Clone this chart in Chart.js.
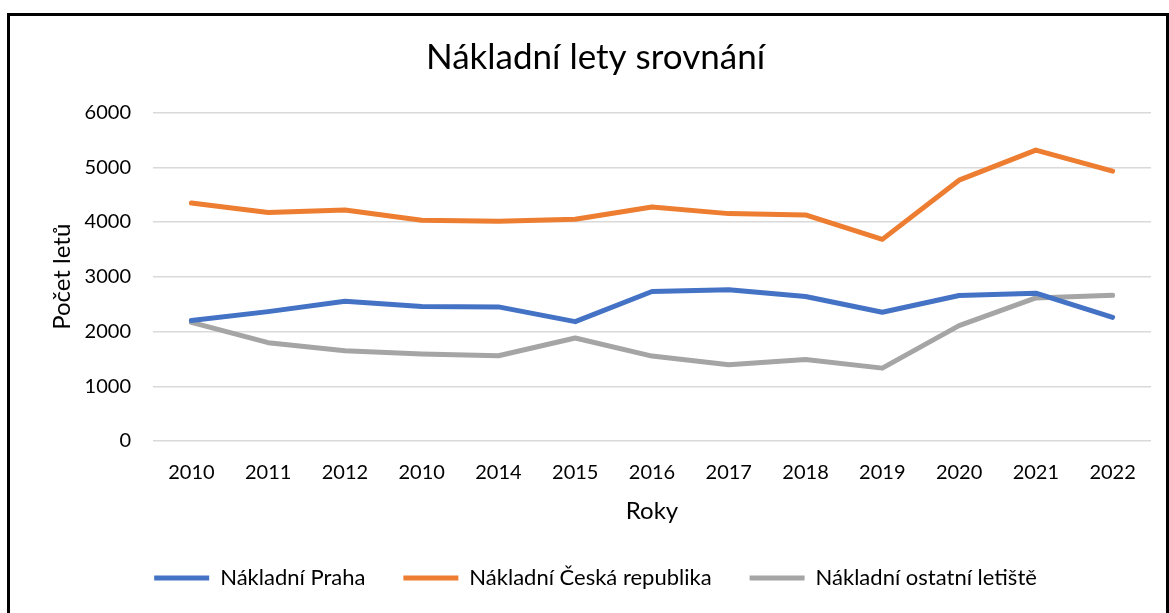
<!DOCTYPE html>
<html>
<head>
<meta charset="utf-8">
<script src="https://cdn.jsdelivr.net/npm/chart.js@4/dist/chart.umd.min.js"></script>
<style>
  html, body { margin: 0; padding: 0; background: #fff; overflow: hidden; }
  #wrap { position: relative; width: 1169px; height: 613px; }
  #frame { position: absolute; left: 7px; top: 13px; width: 1156px; height: 700px; border: 3px solid #000; pointer-events: none; }
  canvas { position: absolute; left: 0; top: 0; }
</style>
</head>
<body>
<div id="wrap">
  <canvas id="chart" width="1169" height="613"></canvas>
  <div id="frame"></div>
</div>
<script>
'use strict';

let years = ['2010', '2011', '2012', '2010', '2014', '2015', '2016', '2017', '2018', '2019', '2020', '2021', '2022'];
let praha = [2199, 2363, 2553, 2455, 2449, 2180, 2730, 2761, 2638, 2351, 2657, 2699, 2259];
let ceskaRepublika = [4348, 4172, 4220, 4031, 4012, 4049, 4275, 4153, 4128, 3683, 4764, 5313, 4928];
let ostatniLetiste = [2168, 1796, 1649, 1588, 1557, 1881, 1551, 1392, 1490, 1331, 2107, 2614, 2662];
let yTicks = [0, 1000, 2000, 3000, 4000, 5000, 6000];

let canvasElem = document.getElementById('chart');
let fontFamily = 'Lato, "Open Sans", sans-serif';

function lineSet(label, data, color) {
  return {
    label: label,
    data: data,
    borderColor: color,
    backgroundColor: color,
    borderWidth: 5,
    borderCapStyle: 'round',
    borderJoinStyle: 'round',
    pointRadius: 0,
    pointHoverRadius: 0,
    tension: 0,
    fill: false
  };
}

let chartObj = {
  type: 'line',
  data: {
    labels: years,
    datasets: [
      lineSet('Nákladní Praha', praha, '#4472C4'),
      lineSet('Nákladní Česká republika', ceskaRepublika, '#ED7D31'),
      lineSet('Nákladní ostatní letiště', ostatniLetiste, '#A5A5A5')
    ]
  },
  options: {
    responsive: false,
    animation: false,
    layout: { padding: { left: 40, right: 18, top: 0, bottom: 14 } },
    plugins: {
      title: {
        display: true,
        text: 'Nákladní lety srovnání',
        color: '#000',
        font: { family: fontFamily, size: 35, weight: 'normal' },
        padding: { top: 37, bottom: 33.5 }
      },
      legend: {
        position: 'bottom',
        labels: {
          color: '#000',
          font: { family: fontFamily, size: 22 },
          boxWidth: 55,
          boxHeight: 5,
          padding: 38,
          generateLabels: function (chart) {
            let items = Chart.defaults.plugins.legend.labels.generateLabels(chart);
            items.forEach(function (it) {
              it.lineWidth = 0;
              it.fillStyle = it.strokeStyle;
            });
            return items;
          }
        }
      },
      tooltip: { enabled: false }
    },
    scales: {
      x: {
        offset: true,
        grid: { display: false },
        border: { display: false },
        ticks: { color: '#000', font: { family: fontFamily, size: 20 }, padding: 12, maxRotation: 0, autoSkip: false },
        title: {
          display: true,
          text: 'Roky',
          color: '#000',
          font: { family: fontFamily, size: 24 },
          padding: { top: 0, bottom: 3 }
        },
        afterFit: function (scale) { scale.height = 88; }
      },
      y: {
        min: 0,
        max: 6000,
        afterBuildTicks: function (scale) {
          scale.ticks = yTicks.map(function (v) { return { value: v }; });
        },
        grid: { color: '#d9d9d9', lineWidth: 1.5, drawTicks: false },
        border: { display: false },
        ticks: {
          color: '#000',
          font: { family: fontFamily, size: 20 },
          padding: 22,
          callback: function (v) { return String(v); }
        },
        title: {
          display: true,
          text: 'Počet letů',
          color: '#000',
          font: { family: fontFamily, size: 24 },
          padding: { top: 8, bottom: 0 }
        },
        afterFit: function (scale) { scale.width = 113; }
      }
    }
  }
};

new Chart(canvasElem, chartObj);
</script>
</body>
</html>
